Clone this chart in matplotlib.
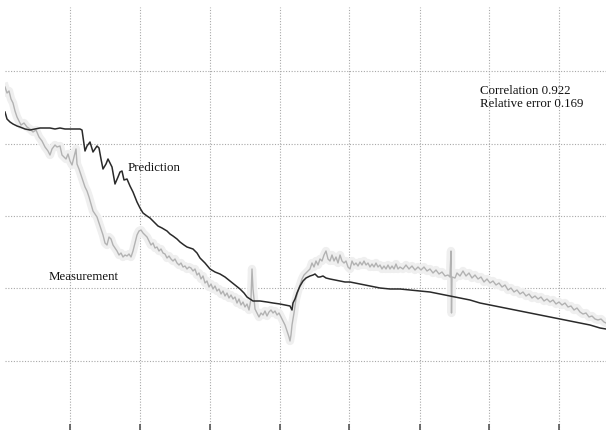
import matplotlib.pyplot as plt

# --- DONNEES (unites arbitraires ; axe vertical inverse) ---
meas_x = [5, 7, 9, 11, 13, 15, 17, 19, 21, 24, 27, 30, 33, 36, 39, 42, 45, 48, 50, 52,
          55, 57, 60, 62, 64, 66, 68, 70, 72, 74, 76, 77, 79, 81, 83, 85, 87, 89, 91, 93,
          95, 97, 99, 101, 103, 105, 107, 109, 111, 113, 115, 117, 119, 121, 123, 125, 127, 129, 131, 133,
          135, 137, 139, 141, 143, 145, 147, 149, 151, 153, 155, 157, 159, 161, 163, 165, 167, 169, 171, 173,
          175, 177, 179, 181, 183, 185, 187, 189, 191, 193, 195, 197, 199, 201, 203, 205, 207, 209, 211, 213,
          215, 217, 219, 221, 223, 225, 227, 229, 231, 233, 235, 237, 239, 241, 243, 245, 247, 249, 251, 252,
          253, 255, 257, 259, 261, 263, 265, 267, 269, 271, 273, 275, 277, 279, 281, 283, 285, 287, 289, 290,
          291, 292, 294, 296, 298, 300, 302, 304, 306, 308, 310, 312, 314, 316, 318, 320, 322, 324, 326, 328,
          330, 332, 334, 336, 338, 340, 342, 344, 346, 348, 350, 352, 354, 356, 358, 360, 362, 364, 366, 368,
          370, 372, 374, 376, 378, 380, 382, 384, 386, 388, 390, 392, 394, 396, 398, 400, 403, 406, 409, 412,
          415, 418, 421, 424, 427, 430, 433, 436, 439, 442, 445, 448, 450, 451, 451.5, 452, 455, 457, 460, 463,
          466, 469, 472, 475, 478, 481, 484, 487, 490, 493, 496, 499, 502, 505, 508, 511, 514, 517, 520, 523,
          526, 529, 532, 535, 538, 541, 544, 547, 550, 553, 556, 559, 562, 565, 568, 571, 574, 577, 580, 583,
          586, 589, 592, 595, 598, 601, 604, 606]
meas_y = [88, 94, 92, 100, 104, 112, 118, 122, 126, 124, 128, 130, 133, 131, 138, 142, 148, 152, 156, 150,
          146, 148, 147, 156, 158, 160, 155, 162, 166, 158, 150, 165, 170, 176, 182, 188, 192, 198, 205, 212,
          215, 218, 224, 230, 236, 244, 246, 238, 240, 246, 249, 252, 256, 254, 258, 256, 257, 255, 258, 252,
          244, 236, 232, 231, 234, 236, 238, 242, 246, 244, 249, 248, 252, 250, 254, 255, 259, 257, 260, 262,
          260, 264, 266, 264, 268, 267, 270, 268, 269, 272, 270, 276, 274, 280, 277, 284, 282, 288, 285, 290,
          287, 292, 290, 295, 292, 297, 294, 299, 296, 300, 298, 304, 300, 306, 303, 308, 305, 311, 300, 270,
          290, 310, 314, 318, 314, 316, 312, 317, 313, 311, 314, 312, 316, 314, 318, 322, 326, 332, 338, 342,
          336, 326, 314, 300, 292, 286, 280, 276, 274, 272, 270, 264, 268, 262, 266, 260, 262, 256, 252, 260,
          262, 256, 262, 258, 264, 256, 262, 264, 262, 268, 270, 262, 266, 264, 267, 263, 266, 262, 266, 264,
          268, 265, 268, 264, 268, 266, 270, 267, 270, 266, 270, 267, 270, 265, 270, 268, 270, 266, 270, 267,
          271, 268, 271, 268, 272, 270, 274, 271, 275, 273, 277, 276, 278, 252, 314, 278, 279, 274, 277, 272,
          277, 274, 279, 276, 280, 278, 283, 280, 284, 282, 286, 284, 288, 286, 291, 289, 293, 291, 295, 293,
          297, 295, 299, 297, 300, 298, 302, 300, 303, 301, 305, 303, 306, 304, 308, 307, 311, 309, 313, 315,
          314, 318, 317, 320, 321, 320, 323, 324]

pred_x = [5, 7, 10, 13, 17, 20, 25, 30, 35, 40, 45, 50, 55, 60, 65, 70, 75, 80, 82, 84,
          85, 87, 90, 93, 95, 97, 99, 101, 103, 106, 108, 110, 112, 115, 118, 120, 122, 124, 127, 130,
          133, 135, 137, 140, 143, 147, 150, 153, 156, 158, 162, 167, 170, 173, 177, 180, 184, 187, 190, 193,
          197, 200, 205, 210, 215, 220, 225, 230, 235, 240, 244, 247, 250, 253, 260, 267, 273, 280, 285, 290,
          292, 293, 295, 297, 300, 303, 306, 310, 313, 315, 318, 320, 323, 326, 330, 335, 340, 345, 350, 360,
          370, 380, 390, 400, 410, 420, 430, 440, 450, 460, 470, 480, 490, 500, 510, 520, 530, 540, 550, 560,
          570, 580, 590, 600, 606]
pred_y = [113, 120, 123, 125, 127, 128, 130, 131, 130, 129, 129, 129, 130, 129, 130, 130, 130, 130, 131, 145,
          152, 147, 143, 153, 150, 147, 149, 160, 170, 165, 160, 164, 168, 185, 178, 173, 172, 181, 180, 187,
          193, 198, 203, 209, 214, 217, 219, 222, 225, 227, 229, 232, 235, 237, 240, 243, 246, 248, 249, 250,
          254, 259, 264, 270, 273, 275, 278, 282, 286, 290, 294, 298, 300, 302, 302, 303, 304, 305, 306, 307,
          311, 304, 300, 294, 287, 282, 279, 277, 276, 275, 278, 278, 277, 279, 280, 281, 282, 283, 283, 285,
          287, 289, 290, 290, 291, 292, 293, 295, 297, 299, 301, 304, 306, 308, 310, 312, 314, 316, 318, 320,
          322, 324, 326, 329, 330]

grid_x = [70, 140, 210, 280, 349, 420, 489, 559]
grid_y = [72, 145, 217, 289, 362]

# --- FIGURE ---
fig = plt.figure(figsize=(6.06, 4.31), dpi=100)
ax = fig.add_axes([5 / 606, 0, 601 / 606, 423 / 431])

# mesure : halo clair + trace grise
ax.plot(meas_x, meas_y, color='#efefef', linewidth=6, solid_joinstyle='round')
ax.plot(meas_x, meas_y, color='#b2b2b2', linewidth=1.0)
# prediction : trait sombre
ax.plot(pred_x, pred_y, color='#2a2a2a', linewidth=1.1)

ax.set_xlim(5, 606)
ax.set_ylim(431, 8)
ax.set_xticks(grid_x)
ax.set_yticks(grid_y)
ax.set_xticklabels([])
ax.set_yticklabels([])
ax.grid(True, color='#a8a8a8', linestyle=(0, (1, 1.5)), linewidth=0.8)
ax.tick_params(axis='x', direction='in', length=4, width=1.2, color='#555555')
ax.tick_params(axis='y', length=0)
for s in ax.spines.values():
    s.set_visible(False)

txt = dict(family='Liberation Serif', fontsize=9.3, color='#111111')
ax.text(128, 168, 'Prediction', va='center', ha='left', **txt)
ax.text(49, 277, 'Measurement', va='center', ha='left', **txt)
ax.text(480, 91, 'Correlation 0.922', va='center', ha='left', **txt)
ax.text(480, 104, 'Relative error 0.169', va='center', ha='left', **txt)

fig.savefig('out.png', dpi=100)
